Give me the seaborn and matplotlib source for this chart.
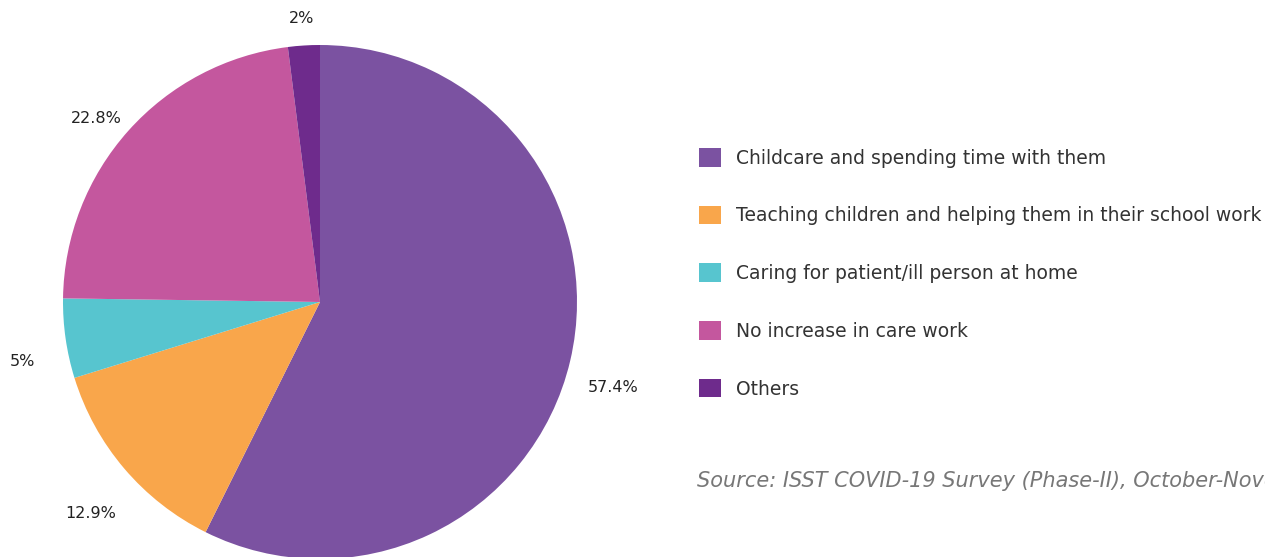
import matplotlib
matplotlib.use("Agg")
import matplotlib.pyplot as plt
import matplotlib.patches as mpatches
import seaborn as sns

categories = [
    "Childcare and spending time with them",
    "Teaching children and helping them in their school work",
    "Caring for patient/ill person at home",
    "No increase in care work",
    "Others",
]
shares = [57.4, 12.9, 5, 22.8, 2]
pct_labels = ["57.4%", "12.9%", "5%", "22.8%", "2%"]
colors = ["#7B52A1", "#F9A64B", "#57C5CF", "#C4579E", "#6E2B8C"]
source_text = "Source: ISST COVID-19 Survey (Phase-II), October-November 2020"

sns.set_theme(style="white")
plt.rcParams["font.family"] = ["DejaVu Sans"]

W, H = 1265, 557
fig = plt.figure(figsize=(W / 100, H / 100), dpi=100)
# pie: centre (320, 302) px, radius 257 px
cx, cy, r = 320, 302, 257
ax = fig.add_axes([(cx - r) / W, (H - cy - r) / H, 2 * r / W, 2 * r / H])

wedges, texts = ax.pie(
    shares,
    colors=colors,
    startangle=90,
    counterclock=False,
    labels=pct_labels,
    labeldistance=1.17,
    wedgeprops=dict(linewidth=0),
    textprops=dict(fontsize=11.5, color="#222222"),
)
for t in texts:
    x, y = t.get_position()
    t.set_position((x, y - 0.065))
    t.set_ha("center")
    t.set_va("center")
ax.set_xlim(-1, 1)
ax.set_ylim(-1, 1)
ax.set_aspect("equal")
ax.axis("off")

handles = [mpatches.Patch(facecolor=c, edgecolor="none") for c in colors]
fig.legend(
    handles,
    categories,
    loc="upper left",
    bbox_to_anchor=(699 / W, 1 - 148 / H),
    frameon=False,
    fontsize=13.5,
    labelcolor="#333333",
    handlelength=1.15,
    handleheight=1.15,
    handletextpad=0.8,
    labelspacing=2.03,
    borderaxespad=0,
    borderpad=0,
)

fig.text(697 / W, 1 - 481 / H, source_text, fontsize=15, style="italic",
         color="#777777", ha="left", va="center")

fig.savefig("out.png", dpi=100)
